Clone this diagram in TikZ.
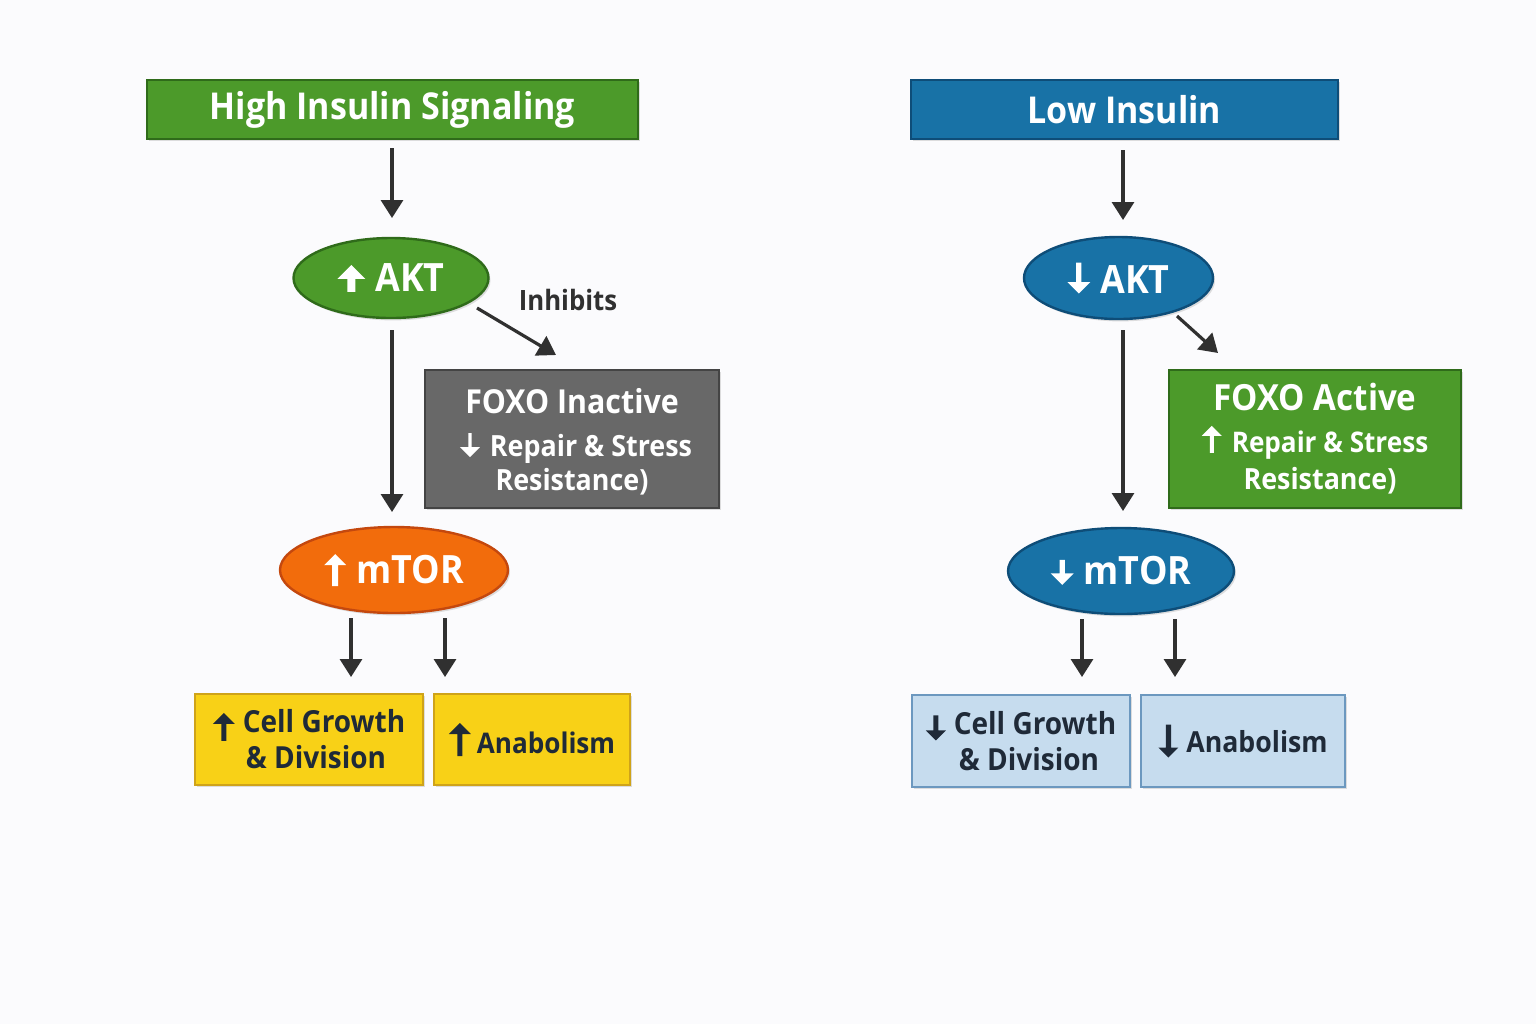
\documentclass[tikz,border=0pt]{standalone}
\usepackage{fontspec}
\setmainfont{Open Sans}[FakeStretch=0.92]
\usetikzlibrary{arrows.meta,shapes.geometric,shadows}
\definecolor{bgc}{HTML}{FBFBFD}
\definecolor{grf}{HTML}{4C9A2A}
\definecolor{grd}{HTML}{2F6B1A}
\definecolor{blf}{HTML}{1872A6}
\definecolor{bld}{HTML}{0E4D78}
\definecolor{gyf}{HTML}{686868}
\definecolor{gyd}{HTML}{444444}
\definecolor{orf}{HTML}{F26C0C}
\definecolor{ord}{HTML}{C4480E}
\definecolor{yef}{HTML}{F8D117}
\definecolor{yed}{HTML}{CFA319}
\definecolor{lbf}{HTML}{C6DCEE}
\definecolor{lbd}{HTML}{6C98BF}
\definecolor{arc}{HTML}{303030}
\definecolor{dtx}{HTML}{1F2A38}
% #1 height, #2 head width, #3 stem width, #4 depth below baseline, #5 colour
\newcommand{\arwU}[5]{\tikz[baseline=0pt]\fill[#5] (-#3/2,-#4) -- (#3/2,-#4) -- (#3/2,#1-#4-#2*0.5) -- (#2/2,#1-#4-#2*0.5) -- (0pt,#1-#4) -- (-#2/2,#1-#4-#2*0.5) -- (-#3/2,#1-#4-#2*0.5) -- cycle;}
\newcommand{\arwD}[5]{\tikz[baseline=0pt]\fill[#5] (-#3/2,#1-#4) -- (#3/2,#1-#4) -- (#3/2,-#4+#2*0.5) -- (#2/2,-#4+#2*0.5) -- (0pt,-#4) -- (-#2/2,-#4+#2*0.5) -- (-#3/2,-#4+#2*0.5) -- cycle;}
\begin{document}
\begin{tikzpicture}[x=0.5pt,y=-0.5pt,
  shd/.style={drop shadow={shadow xshift=1pt,shadow yshift=-1.2pt,opacity=0.25}},
  boxbase/.style={rectangle,inner sep=0pt,line width=1.2pt,shd,align=center},
  titlebox/.style={boxbase,text=white,font=\fontsize{18.5}{22}\selectfont\bfseries},
  foxobox/.style={boxbase,text=white,font=\fontsize{14.6}{17}\selectfont\bfseries},
  outbox/.style={boxbase,text=dtx,font=\fontsize{15.2}{18}\selectfont\bfseries},
  ell/.style={ellipse,inner sep=0pt,line width=1.2pt,shd,text=white,font=\fontsize{19.5}{22}\selectfont\bfseries},
  arr/.style={-{Triangle[width=11pt,length=9pt]},line width=1.6pt,draw=arc}
]
\fill[bgc] (0,0) rectangle (1536,1024);
\useasboundingbox (0,0) rectangle (1536,1024);

% ---------- Left ----------
\node[titlebox,fill=grf,draw=grd,minimum width=245.5pt,minimum height=29.5pt] (hi) at (392.5,109.5) {High Insulin Signaling};
\node[ell,fill=grf,draw=grd,minimum width=97.5pt,minimum height=40pt] (akt1) at (391,278) {\arwU{13.5pt}{14pt}{4pt}{0pt}{white}\hspace{5pt}AKT};
\node[foxobox,fill=gyf,draw=gyd,minimum width=147pt,minimum height=69pt] (foxo1) at (572,439) {{\fontsize{16.5}{19}\selectfont\rule{0pt}{15pt}FOXO Inactive}\\[4.5pt]\hspace*{4pt}\arwD{12pt}{10pt}{1.6pt}{0.5pt}{white}\hspace{5pt}Repair \& Stress\\Resistance)};
\node[ell,fill=orf,draw=ord,minimum width=114pt,minimum height=43pt] (mtor1) at (394,570) {\arwU{16pt}{11pt}{3pt}{1.5pt}{white}\hspace{5pt}mTOR};
\node[outbox,fill=yef,draw=yed,minimum width=114pt,minimum height=45.5pt] (cg1) at (309,739.5) {\arwU{14pt}{11pt}{2.6pt}{4pt}{dtx}\hspace{4pt}Cell Growth\\\hspace*{7pt}\& Division};
\node[outbox,fill=yef,draw=yed,minimum width=98pt,minimum height=45.5pt] (an1) at (532,739.5) {\fontsize{14.2}{18}\selectfont\arwU{16.5pt}{11pt}{2.6pt}{1.5pt}{dtx}\hspace{3pt}Anabolism};
\node[text=arc,font=\fontsize{14}{17}\selectfont\bfseries] (inh) at (568,300) {Inhibits};

\coordinate (a1s) at (392,148); \coordinate (a1e) at (392,218);
\draw[arr] (a1s) -- (a1e);
\coordinate (a2s) at (392,330); \coordinate (a2e) at (392,512);
\draw[arr] (a2s) -- (a2e);
\coordinate (a3s) at (477,308); \coordinate (a3e) at (556,355);
\draw[arr] (a3s) -- (a3e);
\coordinate (a4s) at (351,618); \coordinate (a4e) at (351,677);
\draw[arr] (a4s) -- (a4e);
\coordinate (a5s) at (445,618); \coordinate (a5e) at (445,677);
\draw[arr] (a5s) -- (a5e);

% ---------- Right ----------
\node[titlebox,fill=blf,draw=bld,minimum width=213.5pt,minimum height=29.5pt] (lo) at (1124.5,109.5) {Low Insulin};
\node[ell,fill=blf,draw=bld,minimum width=94.5pt,minimum height=41pt] (akt2) at (1118.5,278) {\arwD{15.5pt}{11.5pt}{2.6pt}{0pt}{white}\hspace{5pt}AKT};
\node[foxobox,fill=grf,draw=grd,minimum width=146pt,minimum height=69pt] (foxo2) at (1315,439) {{\fontsize{18}{19}\selectfont FOXO Active}\\[4pt]{\fontsize{14.2}{17}\selectfont\arwU{13.5pt}{10pt}{2pt}{0pt}{white}\hspace{5pt}Repair \& Stress}\\[1.5pt]\hspace*{5pt}Resistance)};
\node[ell,fill=blf,draw=bld,minimum width=113pt,minimum height=43pt] (mtor2) at (1121,571) {\arwD{12.5pt}{11.5pt}{2.6pt}{0pt}{white}\hspace{5pt}mTOR};
\node[outbox,fill=lbf,draw=lbd,minimum width=109pt,minimum height=46pt] (cg2) at (1021,741) {\arwD{12.5pt}{10pt}{2.6pt}{3pt}{dtx}\hspace{4pt}Cell Growth\\\hspace*{8pt}\& Division};
\node[outbox,fill=lbf,draw=lbd,minimum width=102pt,minimum height=46pt] (an2) at (1243,741) {\fontsize{14.5}{18}\selectfont\arwD{16.5pt}{10pt}{2.6pt}{2.5pt}{dtx}\hspace{4pt}Anabolism};

\coordinate (b1s) at (1123,150); \coordinate (b1e) at (1123,220);
\draw[arr] (b1s) -- (b1e);
\coordinate (b2s) at (1123,330); \coordinate (b2e) at (1123,511);
\draw[arr] (b2s) -- (b2e);
\coordinate (b3s) at (1177,316); \coordinate (b3e) at (1218,353);
\draw[arr] (b3s) -- (b3e);
\coordinate (b4s) at (1082,619); \coordinate (b4e) at (1082,677);
\draw[arr] (b4s) -- (b4e);
\coordinate (b5s) at (1175,619); \coordinate (b5e) at (1175,677);
\draw[arr] (b5s) -- (b5e);
\end{tikzpicture}
\end{document}
